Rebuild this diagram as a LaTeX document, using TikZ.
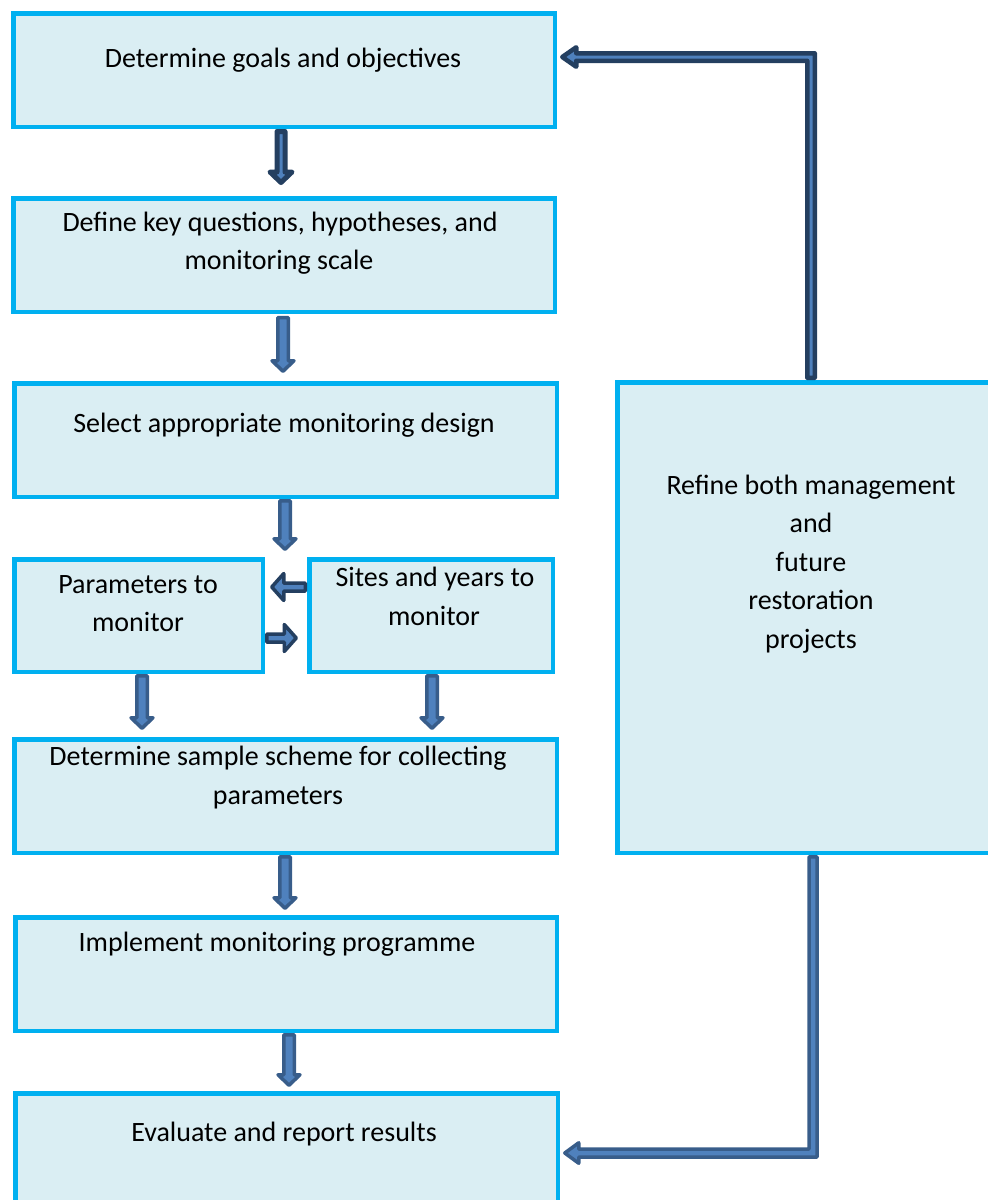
\documentclass[tikz,border=0pt]{standalone}
\usepackage{fontspec}
\setmainfont{Carlito}
\usetikzlibrary{calc}
\definecolor{boxline}{HTML}{00B0F0}
\definecolor{boxfill}{HTML}{DAEEF3}
\definecolor{darkline}{HTML}{243F60}
\definecolor{medline}{HTML}{385D8A}
\definecolor{arrfill}{HTML}{4F81BD}
\tikzset{
  box/.style={draw=boxline, fill=boxfill, line width=4.5pt, inner sep=0pt},
  txt/.style={anchor=base, inner sep=0pt, font=\fontsize{28}{34}\selectfont},
  darkarr/.style={draw=darkline, fill=arrfill, line width=5pt, line join=round},
  medarr/.style={draw=medline, fill=arrfill, line width=3.5pt, line join=round},
}
% #1 x, #2 from node, #3 to node, #4 tip gap, #5 style, #6 shaft half width, #7 start offset
\newcommand\blkv[7]{%
  \coordinate (bs) at (#2.south -| #1,0);
  \coordinate (bt) at ($(#3.north -| #1,0)+(0,-#4)$);
  \draw[#5] ($(bs)+(-#6,#7)$) -- ($(bt)+(-#6,-10.5)$) -- ($(bt)+(-11,-10.5)$) -- (bt)
    -- ($(bt)+(11,-10.5)$) -- ($(bt)+(#6,-10.5)$) -- ($(bs)+(#6,#7)$) -- cycle;}
\begin{document}
\begin{tikzpicture}[x=1pt, y=-1pt]
\useasboundingbox (0,0) rectangle (988,1200);
\clip (0,0) rectangle (988,1200);

% boxes
\node[box, minimum width=541.5, minimum height=113.5] (b1) at (284,70) {};
\node[box, minimum width=541.5, minimum height=113.5] (b2) at (284,255) {};
\node[box, minimum width=542.5, minimum height=113.5] (b3) at (285.5,440) {};
\node[box, minimum width=248.5, minimum height=112.5] (b4) at (138.5,615.5) {};
\node[box, minimum width=243.5, minimum height=112.5] (b5) at (431,615.5) {};
\node[box, minimum width=542.5, minimum height=113.5] (b6) at (285.5,796) {};
\node[box, minimum width=541.5, minimum height=113.5] (b7) at (286,974) {};
\node[box, minimum width=542.5, minimum height=113.5] (b8) at (286.5,1150) {};
\node[box, minimum width=380.5, minimum height=470.5] (rb) at (807.5,617.5) {};

% texts
\node[txt] (t1) at (283,67) {Determine goals and objectives};
\node[txt] (t2a) at (280,231) {Define key questions, hypotheses, and};
\node[txt] (t2b) at (279,269) {monitoring scale};
\node[txt] (t3) at (284,432) {Select appropriate monitoring design};
\node[txt] (t4a) at (138,593) {Parameters to};
\node[txt] (t4b) at (138,631) {monitor};
\node[txt] (t5a) at (435,586) {Sites and years to};
\node[txt] (t5b) at (434,625) {monitor};
\node[txt] (t6a) at (278,765) {Determine sample scheme for collecting};
\node[txt] (t6b) at (278,804) {parameters};
\node[txt] (t7) at (277,951) {Implement monitoring programme};
\node[txt] (t8) at (284,1141) {Evaluate and report results};
\node[txt] (r1) at (811,494) {Refine both management};
\node[txt] (r2) at (811,532) {and};
\node[txt] (r3) at (811,571) {future};
\node[txt] (r4) at (811,609) {restoration};
\node[txt] (r5) at (811,648) {projects};

% vertical arrows
\blkv{281}{b1}{b2}{13.5}{darkarr}{4}{2.5}
\blkv{283}{b2}{b3}{9.75}{medarr}{5.25}{3.5}
\blkv{285}{b3}{b4}{7.75}{medarr}{5.25}{1.75}
\blkv{142}{b4}{b6}{8.75}{medarr}{5.25}{1.75}
\blkv{432}{b5}{b6}{8.75}{medarr}{5.25}{1.75}
\blkv{285}{b6}{b7}{6.75}{medarr}{5.25}{1.75}
\blkv{289}{b7}{b8}{5.75}{medarr}{5.25}{1.75}

% horizontal arrows between parameters and sites
\coordinate (hs1) at (b5.west |- 0,587);
\coordinate (ht1) at ($(b4.east |- 0,587)+(6.75,0)$);
\draw[darkarr, line width=3.5pt] ($(hs1)+(-1.75,-4)$) -- ($(ht1)+(12,-4)$) -- ($(ht1)+(12,-13.5)$) -- (ht1)
  -- ($(ht1)+(12,13.5)$) -- ($(ht1)+(12,4)$) -- ($(hs1)+(-1.75,4)$) -- cycle;
\coordinate (hs2) at (b4.east |- 0,638);
\coordinate (ht2) at ($(b5.west |- 0,638)+(-10.75,0)$);
\draw[darkarr, line width=3.5pt] ($(hs2)+(1.75,-4)$) -- ($(ht2)+(-12,-4)$) -- ($(ht2)+(-12,-13.5)$) -- (ht2)
  -- ($(ht2)+(-12,13.5)$) -- ($(ht2)+(-12,4)$) -- ($(hs2)+(1.75,4)$) -- cycle;

% feedback top: refine box -> goals
\coordinate (fc1) at (811,57);
\coordinate (fs1) at ($(rb.north -| fc1)+(0,-2.25)$);
\coordinate (ft1) at ($(b1.east |- fc1)+(5.25,0)$);
\draw[darkarr, line width=4.5pt]
  ($(fs1)+(-3.75,0)$) -- ($(fc1)+(-3.75,3.75)$) -- ($(ft1)+(14,3.75)$) -- ($(ft1)+(14,9.75)$) -- (ft1)
  -- ($(ft1)+(14,-9.75)$) -- ($(ft1)+(14,-3.75)$) -- ($(fc1)+(3.75,-3.75)$) -- ($(fs1)+(3.75,0)$) -- cycle;

% feedback bottom: refine box -> evaluate
\coordinate (fc2) at (813,1153);
\coordinate (fs2) at ($(rb.south -| fc2)+(0,1.75)$);
\coordinate (ft2) at ($(b8.east |- fc2)+(4.75,0)$);
\draw[medarr]
  ($(fs2)+(-4,0)$) -- ($(fc2)+(-4,-4)$) -- ($(ft2)+(14,-4)$) -- ($(ft2)+(14,-10.25)$) -- (ft2)
  -- ($(ft2)+(14,10.25)$) -- ($(ft2)+(14,4)$) -- ($(fc2)+(4,4)$) -- ($(fs2)+(4,0)$) -- cycle;
\end{tikzpicture}
\end{document}
